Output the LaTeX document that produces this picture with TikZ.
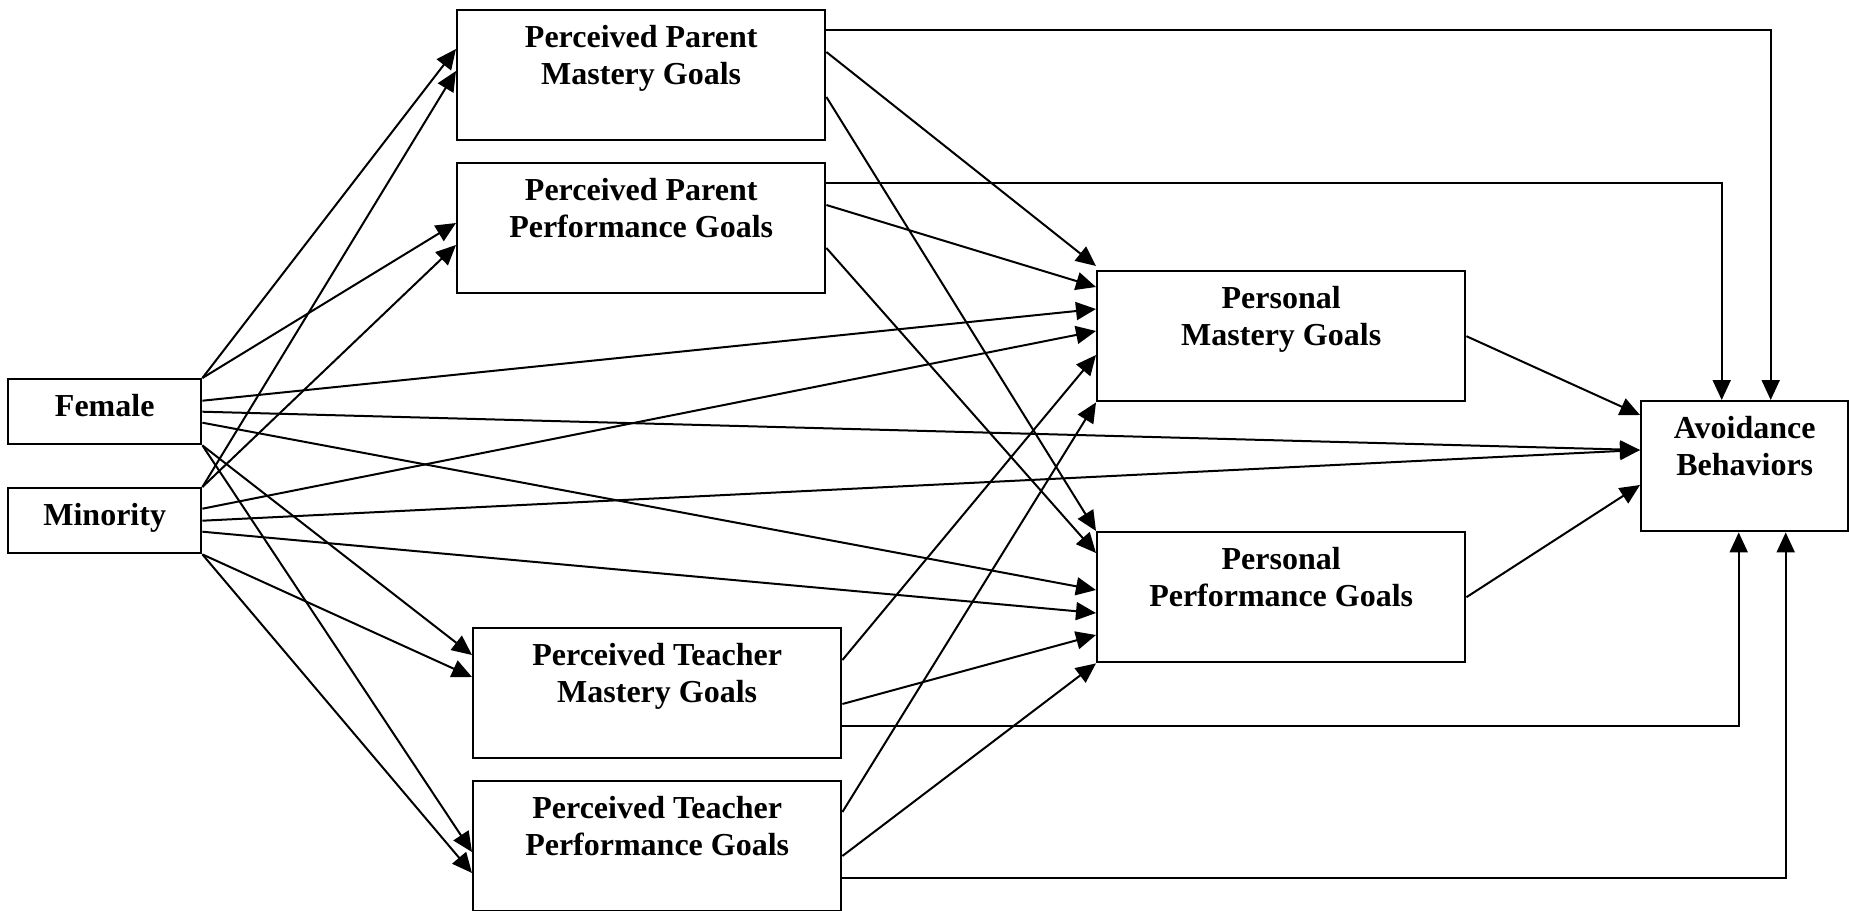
\documentclass[tikz,border=0pt]{standalone}
\usepackage{fontspec}
\setmainfont{Liberation Serif}
\usetikzlibrary{arrows.meta,calc}

\tikzset{
  box/.style={draw, line width=1.2pt, anchor=north west, inner sep=0pt},
  goalbox/.style={box, minimum width=184pt, minimum height=65pt},
  varbox/.style={box, minimum width=96.5pt, minimum height=32.5pt},
  outbox/.style={box, minimum width=103.5pt, minimum height=65pt},
  txt/.style={anchor=north, yshift=-7.75pt, align=center, inner sep=0pt,
    font=\bfseries\fontsize{16pt}{18.5pt}\selectfont},
  arr/.style={line width=1pt, -{Triangle[length=10pt,width=9pt]}},
}

\begin{document}
\begin{tikzpicture}[x=0.5pt,y=-0.5pt]
			\useasboundingbox (0,0) rectangle (1849,911);
			\node[varbox, label={[txt]north:Female}] (fem) at (7,378) {};
			\node[varbox, label={[txt]north:Minority}] (mino) at (7,487) {};
			\node[goalbox, label={[txt]north:Perceived Parent\\Mastery Goals}] (pmg) at (456,9) {};
			\node[goalbox, label={[txt]north:Perceived Parent\\Performance Goals}] (ppg) at (456,162) {};
			\node[goalbox, label={[txt]north:Perceived Teacher\\Mastery Goals}] (tmg) at (472,627) {};
			\node[goalbox, label={[txt]north:Perceived Teacher\\Performance Goals}] (tpg) at (472,780) {};
			\node[goalbox, label={[txt]north:Personal\\Mastery Goals}] (mast) at (1096,270) {};
			\node[goalbox, label={[txt]north:Personal\\Performance Goals}] (perf) at (1096,531) {};
			\node[outbox, label={[txt]north:Avoidance\\Behaviors}] (avoid) at (1640,400) {};
			% female
			\draw[arr] (fem.north east) -- ($(pmg.north west)+(0,40)$);
			\draw[arr] (fem.north east) -- ($(ppg.north west)+(0,61)$);
			\draw[arr] ($(fem.east)+(0,-11)$) -- ($(mast.north west)+(0,39)$);
			\draw[arr] (fem.east) -- ($(avoid.north west)+(0,50)$);
			\draw[arr] ($(fem.east)+(0,11)$) -- ($(perf.north west)+(0,59)$);
			\draw[arr] (fem.south east) -- ($(tmg.north west)+(0,28)$);
			\draw[arr] (fem.south east) -- ($(tpg.north west)+(0,72)$);
			% minority
			\draw[arr] (mino.north east) -- ($(pmg.north west)+(0,62)$);
			\draw[arr] (mino.north east) -- ($(ppg.north west)+(0,83)$);
			\draw[arr] ($(mino.east)+(0,-12)$) -- ($(mast.north west)+(0,61)$);
			\draw[arr] (mino.east) -- ($(avoid.north west)+(0,50)$);
			\draw[arr] ($(mino.east)+(0,11)$) -- ($(perf.north west)+(0,82)$);
			\draw[arr] (mino.south east) -- ($(tmg.north west)+(0,50)$);
			\draw[arr] (mino.south east) -- ($(tpg.north west)+(0,93)$);
			% parent
			\draw[arr] ($(pmg.north east)+(0,21)$) -| ($(avoid.north)+(26,0)$);
			\draw[arr] ($(pmg.north east)+(0,43)$) -- ($(mast.north west)+(0,-4)$);
			\draw[arr] ($(pmg.north east)+(0,88)$) -- (perf.north west);
			\draw[arr] ($(ppg.north east)+(0,21)$) -| ($(avoid.north)+(-23,0)$);
			\draw[arr] ($(ppg.north east)+(0,43)$) -- ($(mast.north west)+(0,17)$);
			\draw[arr] ($(ppg.north east)+(0,86)$) -- ($(perf.north west)+(0,22)$);
			% teacher
			\draw[arr] ($(tmg.north east)+(0,33)$) -- ($(mast.north west)+(0,85)$);
			\draw[arr] ($(tmg.north east)+(0,77)$) -- ($(perf.north west)+(0,104)$);
			\draw[arr] ($(tmg.north east)+(0,99)$) -| ($(avoid.south)+(-6,0)$);
			\draw[arr] ($(tpg.north east)+(0,32)$) -- (mast.south west);
			\draw[arr] ($(tpg.north east)+(0,76)$) -- (perf.south west);
			\draw[arr] ($(tpg.north east)+(0,98)$) -| ($(avoid.south)+(41,0)$);
			% personal
			\draw[arr] (mast.east) -- ($(avoid.north west)+(0,15)$);
			\draw[arr] (perf.east) -- ($(avoid.north west)+(0,85)$);
		\end{tikzpicture}
\end{document}
